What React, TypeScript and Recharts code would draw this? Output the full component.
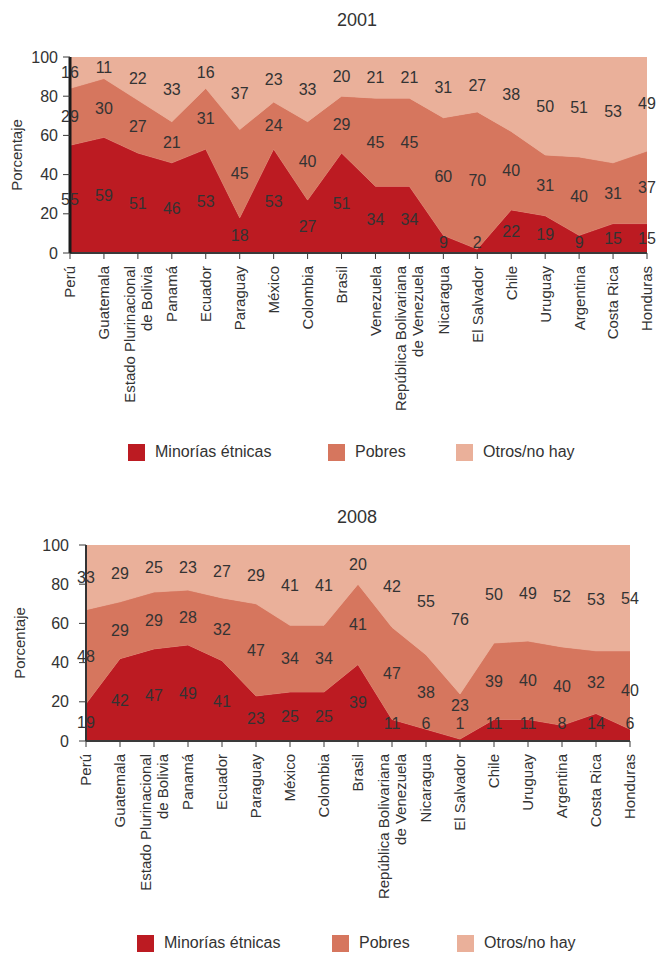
import React from 'react';
import { ComposedChart, Area, Line, XAxis, YAxis, LabelList, CartesianGrid } from 'recharts';

// ---------- DATA ----------
const categories2001 = [
  'Perú', 'Guatemala', 'Estado Plurinacional\nde Bolivia', 'Panamá', 'Ecuador', 'Paraguay',
  'México', 'Colombia', 'Brasil', 'Venezuela', 'República Bolivariana\nde Venezuela', 'Nicaragua',
  'El Salvador', 'Chile', 'Uruguay', 'Argentina', 'Costa Rica', 'Honduras',
];
const minorias2001 = [55, 59, 51, 46, 53, 18, 53, 27, 51, 34, 34, 9, 2, 22, 19, 9, 15, 15];
const pobres2001 = [29, 30, 27, 21, 31, 45, 24, 40, 29, 45, 45, 60, 70, 40, 31, 40, 31, 37];
const otros2001 = [16, 11, 22, 33, 16, 37, 23, 33, 20, 21, 21, 31, 27, 38, 50, 51, 53, 49];

const categories2008 = [
  'Perú', 'Guatemala', 'Estado Plurinacional\nde Bolivia', 'Panamá', 'Ecuador', 'Paraguay',
  'México', 'Colombia', 'Brasil', 'República Bolivariana\nde Venezuela', 'Nicaragua',
  'El Salvador', 'Chile', 'Uruguay', 'Argentina', 'Costa Rica', 'Honduras',
];
const minorias2008 = [19, 42, 47, 49, 41, 23, 25, 25, 39, 11, 6, 1, 11, 11, 8, 14, 6];
const pobres2008 = [48, 29, 29, 28, 32, 47, 34, 34, 41, 47, 38, 23, 39, 40, 40, 32, 40];
const otros2008 = [33, 29, 25, 23, 27, 29, 41, 41, 20, 42, 55, 76, 50, 49, 52, 53, 54];

const yTicks = [0, 20, 40, 60, 80, 100];
const seriesNames = ['Minorías étnicas', 'Pobres', 'Otros/no hay'];

// ---------- STYLE ----------
const FONT = '"Liberation Sans", Arial, Helvetica, sans-serif';
const TEXT = '#333333';
const C_MIN = '#BC1B22';
const C_POB = '#D6765E';
const C_OTR = '#EAB09A';

function buildRows(cats: string[], mi: number[], po: number[], ot: number[], floor: number) {
  return cats.map((name, i) => {
    const m = mi[i];
    const p = po[i];
    const o = ot[i];
    const minMid = Math.max(m / 2, floor);
    return {
      name,
      min: m,
      pob: p,
      otr: o,
      minMid,
      pobMid: Math.max(m + p / 2, minMid + 9),
      otrMid: m + p + o / 2,
    };
  });
}

const CategoryTick = (props: any) => {
  const { x, y, payload } = props;
  const lines = String(payload.value).split('\n');
  const lh = 17;
  const start = -((lines.length - 1) * lh) / 2;
  return (
    <g transform={`translate(${x},${y + 5}) rotate(-90)`}>
      {lines.map((ln, i) => (
        <text
          key={i}
          x={0}
          y={start + i * lh}
          dy="0.36em"
          textAnchor="end"
          fill={TEXT}
          fontSize={15}
          fontFamily={FONT}
        >
          {ln}
        </text>
      ))}
    </g>
  );
};

type ChartProps = {
  title: string;
  rows: any[];
  top: number;
  height: number;
  plotTop: number;
  plotBottom: number;
  plotLeft: number;
  plotRight: number;
  titleY: number;
  legendY: number;
  legendXs: number[];
  ylabelX: number;
  yAxisStroke: string;
  yAxisWidth: number;
  yTickMargin: number;
};

const YAW = 50;
const XAH = 160;

function StackChart(p: ChartProps) {
  const margin = {
    top: p.plotTop - p.top,
    left: p.plotLeft - YAW,
    right: 658 - p.plotRight,
    bottom: p.top + p.height - p.plotBottom - XAH,
  };
  const labelStyle = { fill: TEXT, fontSize: 16, fontFamily: FONT };
  const colors = [C_MIN, C_POB, C_OTR];
  return (
    <>
      <div
        style={{
          position: 'absolute',
          top: p.titleY - 11,
          left: 0,
          width: 658,
          textAlign: 'center',
          fontFamily: FONT,
          fontSize: 18,
          lineHeight: '22px',
          color: TEXT,
          paddingLeft: 56,
          boxSizing: 'border-box',
        }}
      >
        {p.title}
      </div>
      <div style={{ position: 'absolute', top: p.top, left: 0 }}>
        <ComposedChart width={658} height={p.height} data={p.rows} margin={margin}>
          <CartesianGrid fill={C_OTR} stroke="none" horizontal={false} vertical={false} />
          <Area
            type="linear"
            dataKey="min"
            stackId="a"
            fill={C_MIN}
            fillOpacity={1}
            stroke="#e79a8a"
            strokeWidth={0.6}
            isAnimationActive={false}
          />
          <Area
            type="linear"
            dataKey="pob"
            stackId="a"
            fill={C_POB}
            fillOpacity={1}
            stroke="#efbba8"
            strokeWidth={0.6}
            isAnimationActive={false}
          />
          <Area
            type="linear"
            dataKey="otr"
            stackId="a"
            fill={C_OTR}
            fillOpacity={1}
            stroke="none"
            isAnimationActive={false}
          />
          <Line dataKey="minMid" stroke="none" dot={false} activeDot={false} isAnimationActive={false} legendType="none">
            <LabelList dataKey="min" position="center" {...labelStyle} />
          </Line>
          <Line dataKey="pobMid" stroke="none" dot={false} activeDot={false} isAnimationActive={false} legendType="none">
            <LabelList dataKey="pob" position="center" {...labelStyle} />
          </Line>
          <Line dataKey="otrMid" stroke="none" dot={false} activeDot={false} isAnimationActive={false} legendType="none">
            <LabelList dataKey="otr" position="center" {...labelStyle} />
          </Line>
          <XAxis
            dataKey="name"
            scale="point"
            padding={{ left: 0, right: 0 }}
            interval={0}
            height={XAH}
            tick={<CategoryTick />}
            tickSize={6}
            axisLine={{ stroke: '#3a3a3a', strokeWidth: 2 }}
            tickLine={{ stroke: '#3a3a3a', strokeWidth: 1 }}
          />
          <YAxis
            type="number"
            domain={[0, 100]}
            ticks={yTicks}
            allowDataOverflow
            width={YAW}
            tickSize={7}
            tickMargin={p.yTickMargin}
            axisLine={{ stroke: p.yAxisStroke, strokeWidth: p.yAxisWidth }}
            tickLine={{ stroke: '#3a3a3a', strokeWidth: 1 }}
            tick={{ fill: TEXT, fontSize: 16, fontFamily: FONT }}
            label={{
              content: (lp: any) => {
                const vb = lp.viewBox || { x: 0, y: 0, height: 0 };
                const cx = p.ylabelX;
                const cy = vb.y + vb.height / 2;
                return (
                  <text
                    transform={`translate(${cx},${cy}) rotate(-90)`}
                    textAnchor="middle"
                    dy="0.35em"
                    fill={TEXT}
                    fontSize={15}
                    fontFamily={FONT}
                  >
                    Porcentaje
                  </text>
                );
              },
            }}
          />
        </ComposedChart>
      </div>
      {seriesNames.map((n, i) => (
        <div
          key={n}
          style={{
            position: 'absolute',
            top: p.legendY - 9,
            left: p.legendXs[i],
            display: 'flex',
            alignItems: 'center',
            fontFamily: FONT,
            fontSize: 16,
            color: TEXT,
            lineHeight: '18px',
            whiteSpace: 'nowrap',
          }}
        >
          <span style={{ display: 'inline-block', width: 17, height: 17, background: colors[i], marginRight: 10 }} />
          <span>{n}</span>
        </div>
      ))}
    </>
  );
}

const rows2001 = buildRows(categories2001, minorias2001, pobres2001, otros2001, 5.5);
const rows2008 = buildRows(categories2008, minorias2008, pobres2008, otros2008, 9);

export default function App() {
  return (
    <div style={{ position: 'absolute', top: 0, left: 0, width: 658, height: 953, background: '#fff', overflow: 'hidden' }}>
      <StackChart
        title="2001"
        rows={rows2001}
        top={0}
        height={480}
        plotTop={57}
        plotBottom={253}
        plotLeft={70}
        plotRight={647}
        titleY={20}
        legendY={452}
        legendXs={[128, 328, 456]}
        ylabelX={17}
        yAxisStroke="#1a1a1a"
        yAxisWidth={3}
        yTickMargin={5}
      />
      <StackChart
        title="2008"
        rows={rows2008}
        top={490}
        height={463}
        plotTop={545}
        plotBottom={741}
        plotLeft={86}
        plotRight={630}
        titleY={517}
        legendY={943}
        legendXs={[137, 332, 457]}
        ylabelX={20}
        yAxisStroke="#333333"
        yAxisWidth={2}
        yTickMargin={10}
      />
    </div>
  );
}
